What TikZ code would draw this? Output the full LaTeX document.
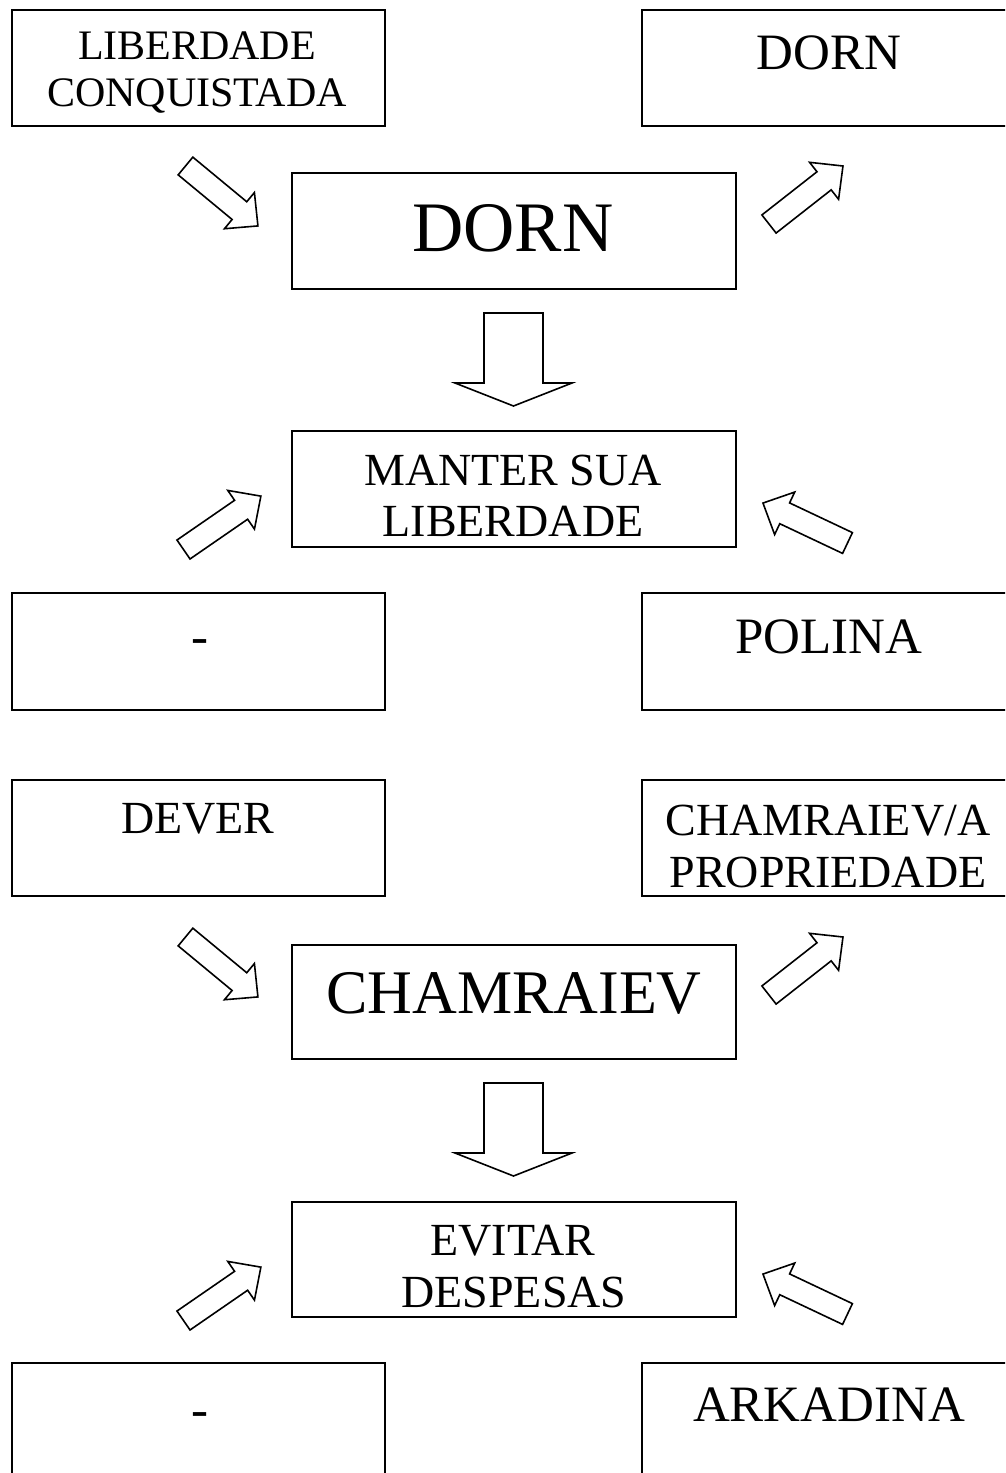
\documentclass[tikz,border=0pt]{standalone}
\usepackage{fontspec}
\setmainfont{Liberation Serif}
\newcommand\blockarr[7]{%
  \begin{scope}[shift={(#1,#2)},rotate=#3]
    \draw[arr] (0,-#5/2) -- (#4-#7,-#5/2) -- (#4-#7,-#6/2) -- (#4,0)
      -- (#4-#7,#6/2) -- (#4-#7,#5/2) -- (0,#5/2) -- cycle;
  \end{scope}}
\begin{document}
\begin{tikzpicture}[x=1pt,y=-1pt,
  box/.style={draw, line width=1.5pt, rectangle, inner sep=0pt},
  sidebox/.style={box, minimum width=373pt, minimum height=116pt},
  midbox/.style={box, minimum width=444pt, minimum height=116pt},
  arr/.style={draw, line width=1.6pt, fill=white, line join=miter},
  tA/.style={font=\fontsize{42}{48}\selectfont, inner sep=0pt, anchor=base},
  tB/.style={font=\fontsize{46}{53}\selectfont, inner sep=0pt, anchor=base},
  tC/.style={font=\fontsize{51}{59}\selectfont, inner sep=0pt, anchor=base},
  tBig/.style={font=\fontsize{71}{82}\selectfont, inner sep=0pt, anchor=base},
  tBig2/.style={font=\fontsize{62}{71}\selectfont, inner sep=0pt, anchor=base}
]
\clip (0,0) rectangle (1005,1473);
\fill[white] (0,0) rectangle (1005,1473);

% boxes
\node[sidebox] (b1) at (198.5,68) {};
\node[sidebox] (b2) at (828.5,68) {};
\node[midbox]  (b3) at (514,231) {};
\node[midbox]  (b4) at (514,489) {};
\node[sidebox, minimum height=117pt] (b5) at (198.5,651.5) {};
\node[sidebox, minimum height=117pt] (b6) at (828.5,651.5) {};
\node[sidebox] (b7) at (198.5,838) {};
\node[sidebox] (b8) at (828.5,838) {};
\node[midbox, minimum height=114pt] (b9) at (514,1002) {};
\node[midbox, minimum height=115pt] (b10) at (514,1259.5) {};
\node[sidebox] (b11) at (198.5,1421) {};
\node[sidebox] (b12) at (828.5,1421) {};

% texts
\node[tA] (t1a) at (197,59) {LIBERDADE};
\node[tA] (t1b) at (197,106) {CONQUISTADA};
\node[tC] (t2) at (829,69) {DORN};
\node[tBig] (t3) at (513,251.5) {DORN};
\node[tB] (t4a) at (513,485) {MANTER SUA};
\node[tB] (t4b) at (513,536) {LIBERDADE};
\node[tC] (t5) at (200,653.5) {-};
\node[tC] (t6) at (829,653.5) {POLINA};
\node[tB] (t7) at (198,833) {DEVER};
\node[tB] (t8a) at (828,835) {CHAMRAIEV/A};
\node[tB] (t8b) at (828,887) {PROPRIEDADE};
\node[tBig2] (t9) at (514,1013) {CHAMRAIEV};
\node[tB] (t10a) at (513,1255) {EVITAR};
\node[tB] (t10b) at (514,1307) {DESPESAS};
\node[tC] (t11) at (200,1426.5) {-};
\node[tC] (t12) at (829,1421.5) {ARKADINA};

% block arrows
\blockarr{185.5}{166}{-39.6}{94}{23}{47}{24}
\blockarr{769}{224}{38.1}{94}{23}{47}{24}
\blockarr{513.5}{313}{-90}{93}{59}{117}{23}
\blockarr{183.5}{549.5}{34.6}{94}{23}{47}{24}
\blockarr{847.5}{543}{154.7}{93.5}{23}{47}{24}
\blockarr{185.5}{937}{-39.6}{94}{23}{47}{24}
\blockarr{769}{995}{38.1}{94}{23}{47}{24}
\blockarr{513.5}{1083}{-90}{93}{59}{117}{23}
\blockarr{183.5}{1320.5}{34.6}{94}{23}{47}{24}
\blockarr{847.5}{1314}{154.7}{93.5}{23}{47}{24}
\end{tikzpicture}
\end{document}
